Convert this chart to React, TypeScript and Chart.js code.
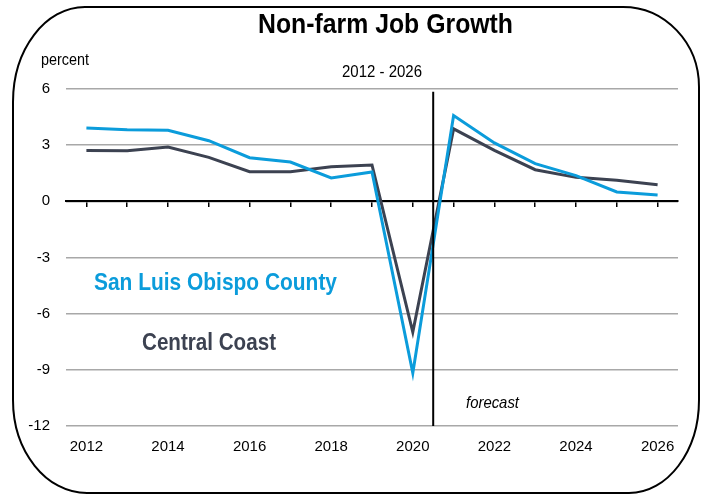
import React, { useEffect, useRef } from "react";
import { Chart, registerables } from "chart.js";

Chart.register(...registerables);

const years = ["2012","2013","2014","2015","2016","2017","2018","2019","2020","2021","2022","2023","2024","2025","2026"];
const sloCounty = [3.92, 3.82, 3.8, 3.24, 2.33, 2.1, 1.25, 1.57, -9.17, 4.58, 3.12, 2.01, 1.37, 0.5, 0.34];
const centralCoast = [2.71, 2.7, 2.9, 2.35, 1.58, 1.58, 1.85, 1.94, -6.98, 3.87, 2.72, 1.69, 1.28, 1.12, 0.88];
const yMin = -12;
const yMax = 6;
const yStep = 3;
const forecastAfterIndex = 8; // forecast line between 2020 and 2021
const forecastLineTop = 5.85;

const SANS = '"Liberation Sans", Arial, sans-serif';
const BLUE = "#0b9cdb";
const DARK = "#3c4251";
const GRID = "#a8a8a8";

// draw text condensed horizontally to a given width (emulates a narrow face)
function fillFit(ctx: any, text: string, left: number, baseline: number, width: number, font: string, color: string) {
  ctx.save();
  ctx.font = font;
  ctx.fillStyle = color;
  ctx.textAlign = "left";
  ctx.textBaseline = "alphabetic";
  const w = ctx.measureText(text).width;
  const sx = width / w;
  ctx.translate(left, baseline);
  ctx.scale(sx, 1);
  ctx.fillText(text, 0, 0);
  ctx.restore();
}

const K = 0.5523;

const decorPlugin = {
  id: "decor",
  beforeDraw(chart: any) {
    const ctx = chart.ctx;
    ctx.save();
    const x0 = 13, y0 = 7, x1 = 699, y1 = 493;
    const tl = { rx: 72, ry: 95 };
    const tr = { rx: 76, ry: 80 };
    const br = { rx: 70, ry: 93 };
    const bl = { rx: 74, ry: 93 };
    ctx.beginPath();
    ctx.moveTo(x0 + tl.rx, y0);
    ctx.lineTo(x1 - tr.rx, y0);
    ctx.bezierCurveTo(x1 - tr.rx + tr.rx * K, y0, x1, y0 + tr.ry - tr.ry * K, x1, y0 + tr.ry);
    ctx.lineTo(x1, y1 - br.ry);
    ctx.bezierCurveTo(x1, y1 - br.ry + br.ry * K, x1 - br.rx + br.rx * K, y1, x1 - br.rx, y1);
    ctx.lineTo(x0 + bl.rx, y1);
    ctx.bezierCurveTo(x0 + bl.rx - bl.rx * K, y1, x0, y1 - bl.ry + bl.ry * K, x0, y1 - bl.ry);
    ctx.lineTo(x0, y0 + tl.ry);
    ctx.bezierCurveTo(x0, y0 + tl.ry - tl.ry * K, x0 + tl.rx - tl.rx * K, y0, x0 + tl.rx, y0);
    ctx.closePath();
    ctx.lineWidth = 2;
    ctx.strokeStyle = "#000";
    ctx.stroke();
    ctx.restore();
  },
  afterDatasetsDraw(chart: any) {
    const ctx = chart.ctx;
    const xs = chart.scales.x;
    const ys = chart.scales.y;
    ctx.save();
    const fx = (xs.getPixelForValue(forecastAfterIndex) + xs.getPixelForValue(forecastAfterIndex + 1)) / 2;
    ctx.beginPath();
    ctx.moveTo(fx, ys.getPixelForValue(forecastLineTop));
    ctx.lineTo(fx, ys.getPixelForValue(yMin));
    ctx.lineWidth = 2;
    ctx.strokeStyle = "#000";
    ctx.stroke();
    ctx.restore();

    fillFit(ctx, "Non-farm Job Growth", 258, 33, 255, "bold 28px " + SANS, "#000");
    fillFit(ctx, "2012 - 2026", 342, 77, 80, "17px " + SANS, "#000");
    fillFit(ctx, "percent", 41, 65, 48, "17px " + SANS, "#000");
    fillFit(ctx, "forecast", 466, 408, 53, "italic 17px " + SANS, "#000");
    fillFit(ctx, "San Luis Obispo County", 94, 290, 243, "bold 24px " + SANS, BLUE);
    fillFit(ctx, "Central Coast", 142, 350, 134, "bold 24px " + SANS, DARK);
  },
};

export default function App() {
  const ref = useRef<HTMLCanvasElement | null>(null);
  useEffect(() => {
    if (!ref.current) return;
    const chart = new Chart(ref.current, {
      type: "line",
      data: {
        labels: years,
        datasets: [
          { label: "San Luis Obispo County", data: sloCounty, borderColor: BLUE, borderWidth: 3, pointRadius: 0, tension: 0, fill: false },
          { label: "Central Coast", data: centralCoast, borderColor: DARK, borderWidth: 3, pointRadius: 0, tension: 0, fill: false },
        ],
      },
      options: {
        animation: false,
        responsive: false,
        devicePixelRatio: 1,
        layout: { padding: { left: 0, right: 30, top: 89, bottom: 0 } },
        plugins: { legend: { display: false }, tooltip: { enabled: false }, title: { display: false } },
        scales: {
          x: {
            type: "category",
            offset: true,
            grid: { display: false, drawTicks: false },
            border: { display: false },
            ticks: {
              color: "#000",
              font: { family: SANS, size: 15 },
              padding: 12,
              maxRotation: 0,
              autoSkip: false,
              callback: (_v: any, i: number) => (i % 2 === 0 ? years[i] : ""),
            },
            afterFit: (s: any) => { s.height = 69; },
          },
          x2: {
            type: "category",
            labels: years,
            offset: true,
            position: { y: 0 },
            grid: { display: true, drawOnChartArea: false, drawTicks: true, tickLength: 5, color: "#000", lineWidth: 1.5 },
            border: { display: true, color: "#000", width: 2 },
            ticks: { display: false },
          },
          y: {
            min: yMin,
            max: yMax,
            ticks: { stepSize: yStep, color: "#000", font: { family: SANS, size: 15 }, padding: 16 },
            grid: { color: GRID, lineWidth: 1.5, drawTicks: false },
            border: { display: false },
            afterFit: (s: any) => { s.width = 66; },
          },
        },
      },
      plugins: [decorPlugin],
    } as any);
    return () => chart.destroy();
  }, []);
  return (
    <div style={{ position: "absolute", left: 0, top: 0, width: 708, height: 495, background: "#fff" }}>
      <canvas ref={ref} width={708} height={495} style={{ width: 708, height: 495, display: "block" }} />
    </div>
  );
}
